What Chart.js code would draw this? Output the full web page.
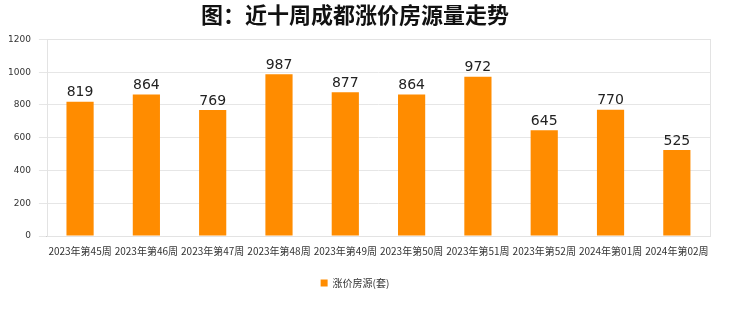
<!DOCTYPE html>
<html>
<head>
<meta charset="utf-8">
<script src="https://cdn.jsdelivr.net/npm/chart.js@4"></script>
<style>
  html, body { margin: 0; padding: 0; background: #fff; }
  #wrap { width: 740px; height: 312px; position: relative; }
</style>
</head>
<body>
<div id="wrap"><canvas id="c" width="740" height="312"></canvas></div>
<script>
const titleText = '图：近十周成都涨价房源量走势';
const weeks = ['2023年第45周', '2023年第46周', '2023年第47周', '2023年第48周', '2023年第49周',
  '2023年第50周', '2023年第51周', '2023年第52周', '2024年第01周', '2024年第02周'];
const riseCount = [819, 864, 769, 987, 877, 864, 972, 645, 770, 525];
const seriesName = '涨价房源(套)';
const yTicks = [0, 200, 400, 600, 800, 1000, 1200];

// 柱顶数值
const valueLabels = {
  id: 'valueLabels',
  afterDatasetsDraw(chart) {
    const ctx = chart.ctx;
    const meta = chart.getDatasetMeta(0);
    ctx.save();
    ctx.font = '14px "DejaVu Sans", sans-serif';
    ctx.fillStyle = '#222';
    ctx.textAlign = 'center';
    ctx.textBaseline = 'bottom';
    meta.data.forEach((bar, i) => {
      ctx.fillText(riseCount[i], bar.x, bar.y - 2);
    });
    ctx.restore();
  }
};

// 绘图区边框
const areaBorder = {
  id: 'areaBorder',
  beforeDatasetsDraw(chart) {
    const { ctx, chartArea: a } = chart;
    ctx.save();
    ctx.strokeStyle = '#e3e3e3';
    ctx.lineWidth = 1;
    ctx.strokeRect(Math.round(a.left) + 0.5, Math.round(a.top) + 0.5,
      Math.round(a.right - a.left), Math.round(a.bottom - a.top));
    ctx.restore();
  }
};

new Chart(document.getElementById('c'), {
  type: 'bar',
  data: {
    labels: weeks,
    datasets: [{
      label: seriesName,
      data: riseCount,
      backgroundColor: '#FF8C00',
      borderWidth: 0,
      categoryPercentage: 1,
      barPercentage: 0.41
    }]
  },
  options: {
    responsive: false,
    animation: false,
    layout: { padding: { left: 0, right: 30, top: 0, bottom: 14 } },
    plugins: {
      title: {
        display: true,
        text: titleText,
        color: '#111',
        font: { size: 22, weight: 'bold', family: '"Noto Sans CJK SC", sans-serif' },
        padding: { top: 1, bottom: 12 }
      },
      legend: {
        position: 'bottom',
        labels: {
          color: '#333',
          boxWidth: 7,
          boxHeight: 7,
          padding: 20,
          font: { size: 10, family: '"Noto Sans CJK SC", sans-serif' }
        }
      },
      tooltip: { enabled: false }
    },
    scales: {
      x: {
        grid: { display: false },
        border: { color: '#ccc' },
        ticks: {
          color: '#333',
          maxRotation: 0,
          autoSkip: false,
          padding: 1,
          font: { size: 10, family: '"Noto Sans CJK SC", sans-serif' }
        }
      },
      y: {
        min: 0,
        max: 1200,
        afterBuildTicks: axis => { axis.ticks = yTicks.map(v => ({ value: v })); },
        grid: { color: '#e6e6e6' },
        border: { display: false },
        ticks: {
          color: '#333',
          padding: 8,
          callback: v => String(v),
          font: { size: 9, family: '"DejaVu Sans", sans-serif' }
        }
      }
    }
  },
  plugins: [areaBorder, valueLabels]
});
</script>
</body>
</html>
